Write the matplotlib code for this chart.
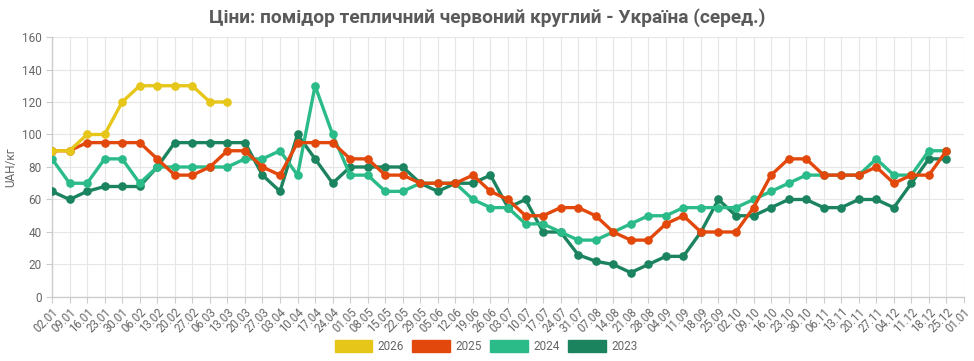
import numpy as np
import matplotlib
matplotlib.use("Agg")
import matplotlib.pyplot as plt
from matplotlib.patches import Patch

plt.rcParams['font.family'] = ['Roboto', 'DejaVu Sans']

dates = ["02.01", "09.01", "16.01", "23.01", "30.01", "06.02", "13.02", "20.02", "27.02", "06.03",
         "13.03", "20.03", "27.03", "03.04", "10.04", "17.04", "24.04", "01.05", "08.05", "15.05",
         "22.05", "29.05", "05.06", "12.06", "19.06", "26.06", "03.07", "10.07", "17.07", "24.07",
         "31.07", "07.08", "14.08", "21.08", "28.08", "04.09", "11.09", "18.09", "25.09", "02.10",
         "09.10", "16.10", "23.10", "30.10", "06.11", "13.11", "20.11", "27.11", "04.12", "11.12",
         "18.12", "25.12", "01.01"]

y2026 = [90, 90, 100, 100, 120, 130, 130, 130, 130, 120, 120]
y2025 = [90, 90, 95, 95, 95, 95, 85, 75, 75, 80, 90, 90, 80, 75, 95, 95, 95, 85, 85, 75,
         75, 70, 70, 70, 75, 65, 60, 50, 50, 55, 55, 50, 40, 35, 35, 45, 50, 40, 40, 40,
         55, 75, 85, 85, 75, 75, 75, 80, 70, 75, 75, 90]
y2024 = [85, 70, 70, 85, 85, 70, 80, 80, 80, 80, 80, 85, 85, 90, 75, 130, 100, 75, 75, 65,
         65, 70, 70, 70, 60, 55, 55, 45, 45, 40, 35, 35, 40, 45, 50, 50, 55, 55, 55, 55,
         60, 65, 70, 75, 75, 75, 75, 85, 75, 75, 90, 90]
y2023 = [65, 60, 65, 68, 68, 68, 80, 95, 95, 95, 95, 95, 75, 65, 100, 85, 70, 80, 80, 80,
         80, 70, 65, 70, 70, 75, 55, 60, 40, 40, 26, 22, 20, 15, 20, 25, 25, 40, 60, 50,
         50, 55, 60, 60, 55, 55, 60, 60, 55, 70, 85, 85]

series = [("2026", y2026, "#E6C619"), ("2025", y2025, "#E2480B"),
          ("2024", y2024, "#2BBB89"), ("2023", y2023, "#1B845F")]

fig = plt.figure(figsize=(9.74, 3.61), dpi=100)
ax = fig.add_axes([0.0534, 0.1773, 0.9363, 0.7202])

for name, vals, col in reversed(series):
    x = np.arange(len(vals))
    ax.plot(x, vals, color=col, lw=2.4, marker='o', ms=5.2, zorder=3,
            solid_joinstyle='round')

ax.set_xlim(0, len(dates) - 1)
ax.set_ylim(0, 160)
ax.set_xticks(np.arange(len(dates)))
ax.set_xticklabels(dates, rotation=45, ha='right', rotation_mode='anchor',
                   fontsize=8.3, color='#666666')
ax.set_yticks(np.arange(0, 161, 20))
ax.set_yticklabels([str(v) for v in range(0, 161, 20)], fontsize=8.5, color='#666666')
ax.tick_params(axis='both', length=4, color='#cccccc', width=0.8)
ax.tick_params(axis='x', pad=2)
ax.grid(True, color='#e6e6e6', lw=0.8, zorder=0)
for s in ['top', 'right']:
    ax.spines[s].set_visible(False)
for s in ['left', 'bottom']:
    ax.spines[s].set_color('#cccccc')
    ax.spines[s].set_linewidth(1.0)

ax.set_ylabel("UAH/кг", fontsize=8.5, color='#666666', labelpad=3)

fig.text(0.5, 0.95, "Ціни: помідор тепличний червоний круглий - Україна (серед.)",
         ha='center', va='center', fontsize=13.8, fontweight='bold', color='#5a5a5a')

handles = [Patch(facecolor=c, edgecolor=c, label=n) for n, v, c in series]
fig.legend(handles=handles, loc='center', bbox_to_anchor=(0.499, 0.04), ncol=4,
           frameon=False, fontsize=8.5, handlelength=3.2, handleheight=1.1,
           columnspacing=0.7, handletextpad=0.45, labelcolor='#666666')

fig.savefig("out.png", dpi=100)
